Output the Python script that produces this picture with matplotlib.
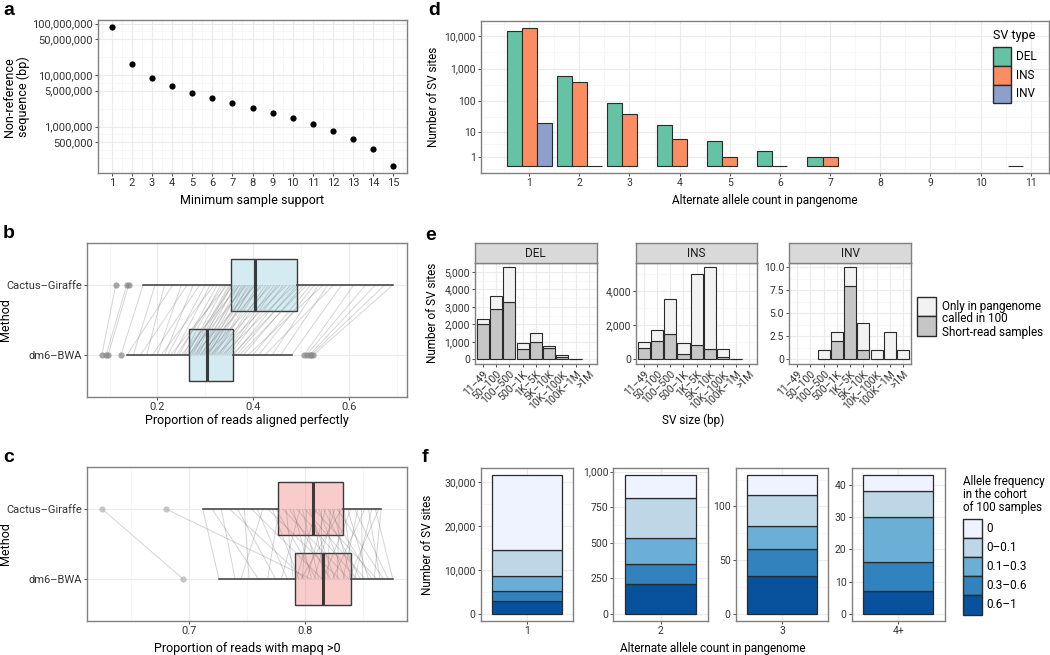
import numpy as np
import matplotlib
matplotlib.use("Agg")
import matplotlib.pyplot as plt
from matplotlib.patches import Rectangle
from matplotlib.collections import LineCollection
from matplotlib.ticker import FixedLocator, FuncFormatter, NullFormatter

plt.rcParams['font.family'] = ['Roboto', 'DejaVu Sans']

nan = float('nan')

# ---------------- data ----------------
# panel a
a_min_support = [1, 2, 3, 4, 5, 6, 7, 8, 9, 10, 11, 12, 13, 14, 15]
a_nonref_bp = [86000000, 16700000, 8700000, 6100000, 4600000, 3660000, 2880000,
               2340000, 1870000, 1450000, 1110000, 810000, 570000, 374000, 170000]
a_yticks = [500000, 1000000, 5000000, 10000000, 50000000, 100000000]

# panels b, c (order: Cactus-Giraffe, dm6-BWA)
methods = ['Cactus–Giraffe', 'dm6–BWA']
b_q1 = [0.353, 0.266]
b_med = [0.404, 0.304]
b_q3 = [0.491, 0.358]
b_wlo = [0.171, 0.137]
b_whi = [0.692, 0.481]
b_fliers_cg = [0.113, 0.136, 0.140]
b_fliers_dm6 = [0.084, 0.093, 0.097, 0.124, 0.507, 0.512, 0.518, 0.522, 0.526]
b_pair_dm6 = [0.084, 0.093, 0.097, 0.124, 0.137, 0.150, 0.165, 0.178, 0.190, 0.200,
              0.208, 0.215, 0.222, 0.228, 0.234, 0.240, 0.245, 0.250, 0.255, 0.258,
              0.262, 0.265, 0.268, 0.271, 0.274, 0.277, 0.280, 0.283, 0.286, 0.289,
              0.292, 0.295, 0.298, 0.301, 0.303, 0.305, 0.308, 0.311, 0.314, 0.317,
              0.320, 0.324, 0.328, 0.332, 0.336, 0.341, 0.346, 0.351, 0.356, 0.360,
              0.366, 0.372, 0.380, 0.390, 0.400, 0.412, 0.425, 0.440, 0.458, 0.481,
              0.507, 0.512, 0.518, 0.522, 0.526]
b_pair_cg = [0.113, 0.136, 0.140, 0.170, 0.232, 0.195, 0.262, 0.215, 0.288, 0.250,
             0.318, 0.275, 0.300, 0.346, 0.310, 0.338, 0.325, 0.372, 0.332, 0.358,
             0.342, 0.386, 0.350, 0.366, 0.352, 0.405, 0.355, 0.380, 0.362, 0.420,
             0.370, 0.394, 0.376, 0.438, 0.383, 0.402, 0.390, 0.456, 0.398, 0.410,
             0.415, 0.470, 0.426, 0.432, 0.486, 0.444, 0.450, 0.463, 0.498, 0.478,
             0.492, 0.512, 0.505, 0.546, 0.520, 0.528, 0.568, 0.537, 0.556, 0.585,
             0.610, 0.635, 0.655, 0.675, 0.692]
b_xticks = [0.2, 0.4, 0.6]

c_q1 = [0.777, 0.792]
c_med = [0.807, 0.816]
c_q3 = [0.833, 0.840]
c_wlo = [0.712, 0.726]
c_whi = [0.866, 0.876]
c_fliers_cg = [0.625, 0.680]
c_fliers_dm6 = [0.695]
c_pair_cg = [0.625, 0.680, 0.712, 0.720, 0.728, 0.735, 0.742, 0.748, 0.754, 0.759,
             0.764, 0.768, 0.772, 0.775, 0.778, 0.781, 0.784, 0.787, 0.790, 0.793,
             0.796, 0.798, 0.800, 0.802, 0.804, 0.806, 0.808, 0.810, 0.812, 0.814,
             0.816, 0.818, 0.820, 0.822, 0.824, 0.826, 0.828, 0.830, 0.832, 0.834,
             0.837, 0.840, 0.843, 0.846, 0.849, 0.852, 0.855, 0.858, 0.861, 0.864, 0.866]
c_pair_dm6 = [0.695, 0.805, 0.726, 0.760, 0.740, 0.800, 0.775, 0.752, 0.815, 0.785,
              0.745, 0.830, 0.795, 0.810, 0.768, 0.838, 0.790, 0.822, 0.806, 0.845,
              0.780, 0.812, 0.852, 0.798, 0.826, 0.818, 0.862, 0.793, 0.835, 0.814,
              0.848, 0.802, 0.858, 0.820, 0.840, 0.808, 0.868, 0.828, 0.797, 0.842,
              0.855, 0.816, 0.872, 0.833, 0.850, 0.824, 0.865, 0.843, 0.876, 0.838, 0.860]
c_xticks = [0.7, 0.8]

# panel d
d_allele_count = [1, 2, 3, 4, 5, 6, 7, 8, 9, 10, 11]
d_sv_types = ['DEL', 'INS', 'INV']
d_del = [14200, 581, 87, 17, 5, 2, 1, nan, nan, nan, 0]
d_ins = [18000, 381, 38, 6, 1, 0, 1, nan, nan, nan, nan]
d_inv = [20, 0, nan, nan, nan, nan, nan, nan, nan, nan, nan]
d_colors = ['#66c2a5', '#fc8d62', '#8da0cb']
d_yticks = [1, 10, 100, 1000, 10000]

# panel e
e_size_bins = ['11–49', '50–100', '100–500', '500–1K', '1K–5K', '5K–10K',
               '10K–100K', '100K–1M', '>1M']
e_types = ['DEL', 'INS', 'INV']
e_called_del = [2000, 2880, 3300, 570, 980, 650, 150, 10, nan]
e_only_del = [300, 770, 1970, 390, 520, 130, 100, 20, nan]
e_called_ins = [660, 1100, 1480, 300, 850, 600, 120, 5, nan]
e_only_ins = [370, 600, 2020, 650, 4150, 4780, 460, 10, nan]
e_called_inv = [nan, nan, 0, 2, 8, 1, 0, 0, 0]
e_only_inv = [nan, nan, 1, 1, 2, 3, 1, 3, 1]
e_yticks_del = [0, 1000, 2000, 3000, 4000, 5000]
e_yticks_ins = [0, 2000, 4000]
e_yticks_inv = [0, 2.5, 5.0, 7.5, 10.0]
e_legend_labels = ['Only in pangenome', 'called in 100\nShort-read samples']
e_colors = ['#f2f2f2', '#c6c6c6']

# panel f
f_allele_count = ['1', '2', '3', '4+']
f_af_bins = ['0', '0–0.1', '0.1–0.3', '0.3–0.6', '0.6–1']
f_n_af0 = [16950, 157, 18, 5]
f_n_af0_01 = [5900, 281, 29, 8]
f_n_af01_03 = [3550, 182, 22, 14]
f_n_af03_06 = [2300, 145, 25, 9]
f_n_af06_1 = [2900, 210, 35, 7]
f_colors = ['#eff3ff', '#bdd7e7', '#6baed6', '#3182bd', '#08519c']
f_yticks = [[0, 10000, 20000, 30000], [0, 250, 500, 750, 1000], [0, 50, 100],
            [0, 10, 20, 30, 40]]

# ---------------- helpers ----------------
W, H = 1050, 655
fig = plt.figure(figsize=(W / 100, H / 100), dpi=100)
fig.patch.set_facecolor('white')

BORDER = '#808080'
TXT = '#333333'
TITLE_FS = 8.5


def rect(l, r, t, b):
    return [l / W, 1 - b / H, (r - l) / W, (b - t) / H]


def fx(x):
    return x / W


def fy(y):
    return 1 - y / H


def expand(lo, hi, f=0.05):
    d = (hi - lo) * f
    return lo - d, hi + d


def gg_minor(majors, lo, hi):
    b = sorted(float(v) for v in majors)
    bd = b[1] - b[0]
    if lo < b[0]:
        b = [b[0] - bd] + b
    if hi > b[-1]:
        b = b + [b[-1] + bd]
    out = []
    for a1, a2 in zip(b[:-1], b[1:]):
        out += [a1, (a1 + a2) / 2]
    out.append(b[-1])
    res = []
    for v in out:
        if lo <= v <= hi and not any(abs(v - m) < 1e-9 for m in majors):
            res.append(v)
    return res


def style(ax, fs=7.5):
    ax.set_facecolor('white')
    for s in ax.spines.values():
        s.set_color(BORDER)
        s.set_linewidth(1.0)
        s.set_zorder(6)
    ax.tick_params(which='major', length=2.2, width=0.6, color=TXT,
                   labelsize=fs, labelcolor=TXT, pad=1.5)
    ax.tick_params(which='minor', length=0)
    ax.grid(which='major', color='#ebebeb', linewidth=0.8)
    ax.grid(which='minor', color='#f3f3f3', linewidth=0.45)
    ax.set_axisbelow(True)


def letter(x, y, s):
    fig.text(fx(x), fy(y), s, fontsize=14, fontweight='bold',
             family=['Liberation Sans', 'DejaVu Sans'], va='baseline', ha='left')


def comma(v, p=None):
    return f'{v:,.0f}'


# ---------------- panel a ----------------
ax = fig.add_axes(rect(97.7, 407.3, 20, 173.3))
ax.set_yscale('log')
ax.scatter(a_min_support, a_nonref_bp, s=20, c='black', linewidths=0, zorder=3)
lx = expand(min(a_min_support), max(a_min_support))
lyt = expand(np.log10(min(a_nonref_bp)), np.log10(max(a_nonref_bp)))
ax.set_xlim(lx)
ax.set_ylim(10 ** lyt[0], 10 ** lyt[1])
ax.xaxis.set_major_locator(FixedLocator(a_min_support))
ax.xaxis.set_minor_locator(FixedLocator(gg_minor(a_min_support, *lx)))
ax.yaxis.set_major_locator(FixedLocator(a_yticks))
ax.yaxis.set_minor_locator(FixedLocator(
    [10 ** v for v in gg_minor(list(np.log10(a_yticks)), *lyt)]))
ax.yaxis.set_major_formatter(FuncFormatter(comma))
ax.yaxis.set_minor_formatter(NullFormatter())
style(ax, 8)
fig.text(fx(252.5), fy(200), 'Minimum sample support', ha='center', va='center',
         fontsize=9)
fig.text(fx(16.5), fy(97), 'Non-reference\nsequence (bp)', ha='center', va='center',
         rotation=90, fontsize=9, linespacing=1.1)
letter(3, 15, 'a')


# ---------------- panels b, c ----------------
def r_top(r):
    return (1 - r[1] - r[3]) * H


def r_bot(r):
    return (1 - r[1]) * H


def box_panel(r, q1, med, q3, wlo, whi, fl_cg, fl_dm6, pcg, pdm6, xticks, fill,
              fcol, xlabel, xl_y, lab, lab_y):
    ax = fig.add_axes(r)
    stats = [dict(med=med[i], q1=q1[i], q3=q3[i], whislo=wlo[i], whishi=whi[i],
                  fliers=[fl_cg, fl_dm6][i]) for i in range(2)]
    kw = dict(positions=[2, 1], widths=0.75, showcaps=False, patch_artist=True,
              boxprops=dict(facecolor=fill, edgecolor='#3a3a3a', linewidth=1.0),
              medianprops=dict(color='#3a3a3a', linewidth=2.2),
              whiskerprops=dict(color='#3a3a3a', linewidth=1.1),
              flierprops=dict(marker='o', markerfacecolor=fcol, markeredgecolor='none',
                              markersize=4.5, alpha=0.75))
    try:
        res = ax.bxp(stats, orientation='horizontal', **kw)
    except TypeError:
        res = ax.bxp(stats, vert=False, **kw)
    for b in res['boxes']:
        b.set_zorder(2)
    for k in ('medians', 'whiskers'):
        for a in res[k]:
            a.set_zorder(4)
    for a in res['fliers']:
        a.set_zorder(5)
    segs = [[(d, 1), (c, 2)] for c, d in zip(pcg, pdm6)]
    ax.add_collection(LineCollection(segs, colors='#6a6a6a', alpha=0.28,
                                     linewidths=0.7, zorder=3))
    allv = list(pcg) + list(pdm6) + list(wlo) + list(whi)
    xl = expand(min(allv), max(allv))
    ax.set_xlim(xl)
    ax.set_ylim(0.4, 2.6)
    ax.xaxis.set_major_locator(FixedLocator(xticks))
    ax.xaxis.set_minor_locator(FixedLocator(gg_minor(xticks, *xl)))
    ax.xaxis.set_major_formatter(FuncFormatter(lambda v, p: f'{v:.1f}'))
    ax.yaxis.set_major_locator(FixedLocator([2, 1]))
    ax.set_yticklabels(methods)
    ax.yaxis.set_minor_locator(FixedLocator([]))
    style(ax, 8)
    fig.text(fx(247), fy(xl_y), xlabel, ha='center', va='center', fontsize=9)
    fig.text(fx(6), fy((r_top(r) + r_bot(r)) / 2), 'Method', ha='center',
             va='center', rotation=90, fontsize=9)
    letter(3, lab_y, lab)


assert len(b_pair_cg) == len(b_pair_dm6)
assert len(c_pair_cg) == len(c_pair_dm6)
box_panel(rect(87.3, 407.3, 243.3, 396.7), b_q1, b_med, b_q3, b_wlo, b_whi,
          b_fliers_cg, b_fliers_dm6, b_pair_cg, b_pair_dm6, b_xticks,
          (173 / 255, 216 / 255, 230 / 255, 0.5), '#8a8a8a',
          'Proportion of reads aligned perfectly', 420.7, 'b', 238)
box_panel(rect(87.3, 407.3, 466.7, 621), c_q1, c_med, c_q3, c_wlo, c_whi,
          c_fliers_cg, c_fliers_dm6, c_pair_cg, c_pair_dm6, c_xticks,
          (240 / 255, 128 / 255, 128 / 255, 0.4), '#b5b5b5',
          'Proportion of reads with mapq >0', 648.3, 'c', 462)


# ---------------- panel d ----------------
def f1p(y):
    y = np.asarray(y, dtype=float)
    return np.log10(np.clip(y + 1, 1e-6, None))


def if1p(t):
    return 10 ** np.asarray(t, dtype=float) - 1


ax = fig.add_axes(rect(480.7, 1049, 20.7, 173.3))
ax.set_yscale('function', functions=(f1p, if1p))
xs = np.array(d_allele_count, dtype=float)
for k, (vals, col) in enumerate(zip([d_del, d_ins, d_inv], d_colors)):
    v = np.array(vals, dtype=float)
    m = ~np.isnan(v)
    ax.bar(xs[m] + (k - 1) * 0.3, v[m], width=0.3, color=col, edgecolor='#2a2a2a',
           linewidth=0.8, zorder=2)
allx = []
for k, vals in enumerate([d_del, d_ins, d_inv]):
    for x, v in zip(d_allele_count, vals):
        if not np.isnan(v):
            allx += [x + (k - 1) * 0.3 - 0.15, x + (k - 1) * 0.3 + 0.15]
dxl = expand(min(allx), max(allx))
allv = [v for v in d_del + d_ins + d_inv if not np.isnan(v)]
dyt = expand(0, float(f1p(max(allv))))
ax.set_xlim(dxl)
ax.set_ylim(float(if1p(dyt[0])), float(if1p(dyt[1])))
ax.xaxis.set_major_locator(FixedLocator(d_allele_count))
ax.xaxis.set_minor_locator(FixedLocator(gg_minor(d_allele_count, *dxl)))
ax.yaxis.set_major_locator(FixedLocator(d_yticks))
ax.yaxis.set_minor_locator(FixedLocator(
    [float(if1p(t)) for t in gg_minor(list(f1p(d_yticks)), *dyt)]))
ax.yaxis.set_major_formatter(FuncFormatter(comma))
ax.yaxis.set_minor_formatter(NullFormatter())
style(ax, 7.5)
fig.text(fx(765), fy(200), 'Alternate allele count in pangenome', ha='center',
         va='center', fontsize=TITLE_FS)
fig.text(fx(433.3), fy(97), 'Number of SV sites', ha='center', va='center',
         rotation=90, fontsize=TITLE_FS)
letter(428, 15, 'd')
# legend d
fig.text(fx(992.7), fy(35), 'SV type', ha='left', va='center', fontsize=9)
ktop = 46.7
for i, (lab, col) in enumerate(zip(d_sv_types, d_colors)):
    y0 = ktop + i * 18.9
    fig.patches.append(Rectangle((fx(993.3), fy(y0 + 18.9)), 17.7 / W, 18.9 / H,
                                 transform=fig.transFigure, facecolor=col,
                                 edgecolor='#2a2a2a', linewidth=1.0))
    fig.text(fx(1016), fy(y0 + 9.45), lab, ha='left', va='center', fontsize=8.5)

# ---------------- panel e ----------------
e_called = [e_called_del, e_called_ins, e_called_inv]
e_only = [e_only_del, e_only_ins, e_only_inv]
e_ticks = [e_yticks_del, e_yticks_ins, e_yticks_inv]
e_lr = [(475, 596.7), (636, 757.3), (789.3, 911)]
ex = np.arange(len(e_size_bins))
for i, t in enumerate(e_types):
    l, r = e_lr[i]
    ax = fig.add_axes(rect(l, r, 262.7, 364))
    called = np.array(e_called[i], dtype=float)
    only = np.array(e_only[i], dtype=float)
    mc = ~np.isnan(called)
    mo = ~np.isnan(only)
    ax.bar(ex[mc], called[mc], width=0.92, color=e_colors[1], edgecolor='#2a2a2a',
           linewidth=0.8, zorder=2)
    ax.bar(ex[mo], only[mo], bottom=np.nan_to_num(called)[mo], width=0.92,
           color=e_colors[0], edgecolor='#2a2a2a', linewidth=0.8, zorder=2)
    tot = np.nan_to_num(called) + np.nan_to_num(only)
    eyl = expand(0, float(tot.max()))
    ax.set_ylim(eyl)
    ax.set_xlim(-0.6, len(e_size_bins) - 0.4)
    ax.xaxis.set_major_locator(FixedLocator(list(ex)))
    ax.set_xticklabels(e_size_bins, rotation=45, ha='right', va='top',
                       rotation_mode='anchor')
    ax.yaxis.set_major_locator(FixedLocator(e_ticks[i]))
    ax.yaxis.set_minor_locator(FixedLocator(gg_minor(e_ticks[i], *eyl)))
    if t == 'INV':
        ax.yaxis.set_major_formatter(FuncFormatter(
            lambda v, p: '0' if v == 0 else f'{v:.1f}'))
    else:
        ax.yaxis.set_major_formatter(FuncFormatter(comma))
    style(ax, 7.5)
    ax.tick_params(axis='x', labelsize=7.5)
    sax = fig.add_axes(rect(l, r, 243.3, 262.7))
    sax.set_facecolor('#d9d9d9')
    sax.set_xticks([])
    sax.set_yticks([])
    for s in sax.spines.values():
        s.set_color(BORDER)
        s.set_linewidth(1.0)
    sax.text(0.5, 0.45, t, ha='center', va='center', fontsize=8.5,
             transform=sax.transAxes, color='#1a1a1a')
fig.text(fx(693), fy(420.7), 'SV size (bp)', ha='center', va='center',
         fontsize=TITLE_FS)
fig.text(fx(432.7), fy(313), 'Number of SV sites', ha='center', va='center',
         rotation=90, fontsize=TITLE_FS)
letter(425, 240, 'e')
# legend e
ek = [(297.3, 315.7), (315.7, 335.7)]
for (y0, y1), lab, col in zip(ek, e_legend_labels, e_colors):
    fig.patches.append(Rectangle((fx(917.3), fy(y1)), 18.4 / W, (y1 - y0) / H,
                                 transform=fig.transFigure, facecolor=col,
                                 edgecolor='#2a2a2a', linewidth=1.0))
    fig.text(fx(942.3), fy((y0 + y1) / 2), lab, ha='left', va='center',
             fontsize=8.5, linespacing=1.05)

# ---------------- panel f ----------------
f_stack = [f_n_af06_1, f_n_af03_06, f_n_af01_03, f_n_af0_01, f_n_af0]
f_stack_cols = f_colors[::-1]
f_lr = [(480.7, 573.3), (613.3, 707.7), (735.7, 828.3), (851.7, 945)]
for j, lab in enumerate(f_allele_count):
    l, r = f_lr[j]
    ax = fig.add_axes(rect(l, r, 468.3, 621))
    bottom = 0.0
    for vals, col in zip(f_stack, f_stack_cols):
        ax.bar([0], [vals[j]], bottom=bottom, width=0.9, color=col,
               edgecolor='#2a2a2a', linewidth=0.9, zorder=2)
        bottom += vals[j]
    fyl = expand(0, bottom)
    ax.set_ylim(fyl)
    ax.set_xlim(-0.6, 0.6)
    ax.xaxis.set_major_locator(FixedLocator([0]))
    ax.set_xticklabels([lab])
    ax.yaxis.set_major_locator(FixedLocator(f_yticks[j]))
    ax.yaxis.set_minor_locator(FixedLocator(gg_minor(f_yticks[j], *fyl)))
    ax.yaxis.set_major_formatter(FuncFormatter(comma))
    style(ax, 7.5)
fig.text(fx(713), fy(648.3), 'Alternate allele count in pangenome', ha='center',
         va='center', fontsize=TITLE_FS)
fig.text(fx(427.3), fy(545), 'Number of SV sites', ha='center', va='center',
         rotation=90, fontsize=TITLE_FS)
letter(421.7, 461.7, 'f')
# legend f
fig.text(fx(963.3), fy(494.8), 'Allele frequency\nin the cohort\nof 100 samples',
         ha='left', va='center', fontsize=8.3, linespacing=1.0)
for i, (lab, col) in enumerate(zip(f_af_bins, f_colors)):
    y0 = 519 + i * 19.1
    fig.patches.append(Rectangle((fx(963.3), fy(y0 + 19.1)), 18.4 / W, 19.1 / H,
                                 transform=fig.transFigure, facecolor=col,
                                 edgecolor='#2a2a2a', linewidth=1.0))
    fig.text(fx(986.7), fy(y0 + 9.55), lab, ha='left', va='center', fontsize=8.5)

fig.savefig('out.png', dpi=100, facecolor='white')
